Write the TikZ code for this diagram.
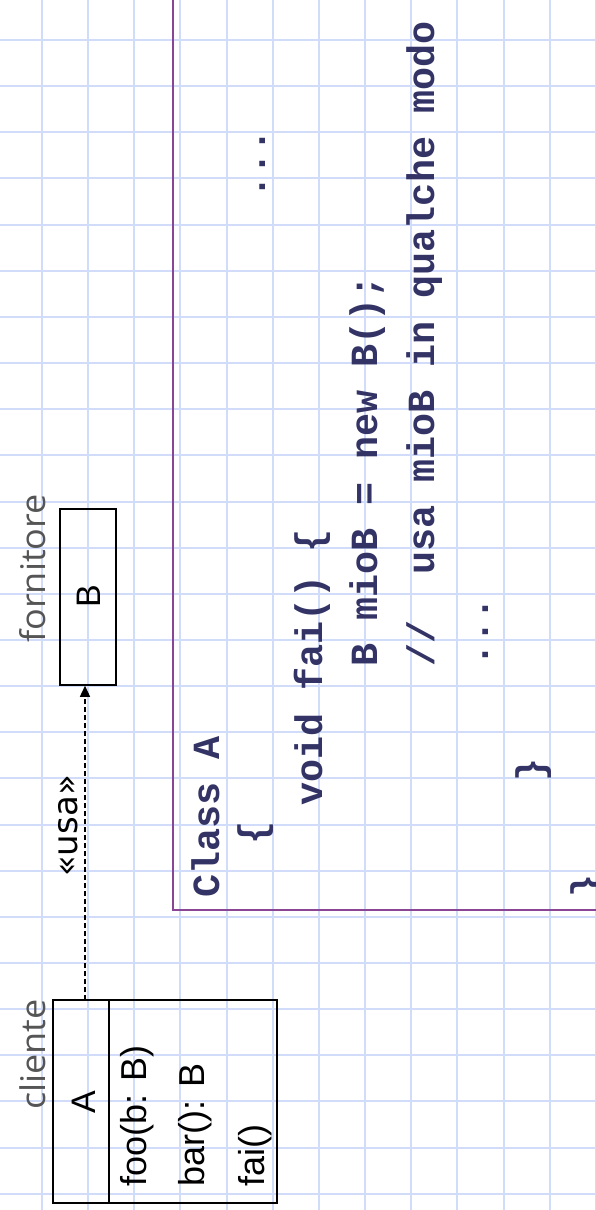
\documentclass[tikz,border=0pt]{standalone}
\usepackage{fontspec}
\usetikzlibrary{arrows.meta}
\newfontfamily\codefont{Liberation Mono}
\newfontfamily\lblfont[FakeStretch=1.06]{Open Sans}
\newfontfamily\umlfont{Liberation Sans}
\newfontfamily\stereofont{DejaVu Sans}
\definecolor{gridblue}{RGB}{208,220,250}
\definecolor{marginpurple}{RGB}{139,69,150}
\definecolor{codecol}{RGB}{51,51,102}
\definecolor{lblgray}{RGB}{85,85,85}
\begin{document}
\begin{tikzpicture}[x=1pt,y=-1pt,
  gridline/.style={draw=gridblue,line width=2pt},
  marginline/.style={draw=marginpurple,line width=2.3pt},
  code/.style={rotate=90,anchor=base west,inner sep=0pt,text=codecol,font=\codefont\bfseries\fontsize{38.4}{40}\selectfont},
  rolelbl/.style={rotate=90,anchor=base west,inner sep=0pt,text=lblgray,font=\lblfont\fontsize{34}{36}\selectfont},
  umlbox/.style={draw=black,line width=1.5pt,inner sep=0pt},
  umltxt/.style={rotate=90,inner sep=0pt,text=black,font=\umlfont\fontsize{34}{36}\selectfont},
  methtxt/.style={rotate=90,anchor=base west,inner sep=0pt,text=black,font=\umlfont\fontsize{36}{38}\selectfont},
  dep/.style={draw=black,line width=1.3pt,dash pattern=on 5pt off 3pt,-{Triangle[length=11pt,width=10pt]}}
]
\useasboundingbox (0,0) rectangle (596,1210);
\fill[white] (0,0) rectangle (596,1210);
% squared paper
\foreach \i in {0,...,12} \draw[gridline] ({42+46.15*\i},0) -- ({42+46.15*\i},1210);
\foreach \i in {0,...,25} \draw[gridline] (0,{40+46.15*\i}) -- (596,{40+46.15*\i});
% code frame
\draw[marginline] (173,0) -- (173,910) -- (596,910);
% code lines
\node[code] (l1) at (219,898) {Class A};
\node[code] (l2) at (265,845) {\{};
\node[code] (l2b) at (265,199) {...};
\node[code] (l3) at (322,806) {void fai() \{};
\node[code] (l4) at (377,667) {B mioB = new B();};
\node[code] (l5) at (434,667) {//\ \ usa mioB in qualche modo};
\node[code] (l6) at (488,667) {...};
\node[code] (l7) at (543,782) {\}};
\node[code] (l8) at (598,898) {\}};
% UML class A
\node[umlbox,minimum width=224pt,minimum height=203pt] (A) at (165,1101.5) {};
\coordinate (divx) at (109,1000);
\draw[black,line width=2.5pt] (A.north -| divx) -- (A.south -| divx);
\node[umltxt,anchor=base] (An) at (95,1102) {A};
\node[methtxt] (m1) at (146,1187) {foo(b: B)};
\node[methtxt] (m2) at (204,1187) {bar(): B};
\node[methtxt] (m3) at (264,1187) {fai()};
\node[rolelbl] (cl) at (45,1110) {cliente};
% UML class B
\node[umlbox,minimum width=56pt,minimum height=176pt] (B) at (88,597) {};
\node[umltxt,anchor=base] (Bn) at (100,596) {B};
\node[rolelbl] (fo) at (45,643) {fornitore};
% dependency
\coordinate (usaStart) at (85,1000);
\draw[dep] (usaStart) -- (usaStart |- B.south);
\node[umltxt,anchor=base,font=\stereofont\fontsize{34}{36}\selectfont] (usa) at (77,826) {«usa»};
\end{tikzpicture}
\end{document}
